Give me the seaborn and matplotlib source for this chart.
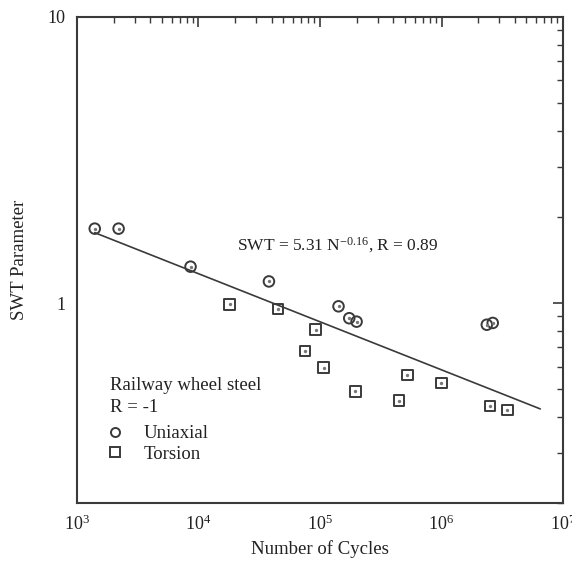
import numpy as np
import pandas as pd
import matplotlib
matplotlib.use("Agg")
import matplotlib.pyplot as plt
import seaborn as sns
from matplotlib.ticker import LogLocator, NullFormatter, FixedLocator, FixedFormatter
from matplotlib.lines import Line2D

# ---- data ----
uni_N = [1400, 2200, 8600, 38000, 142000, 174000, 200000, 2360000, 2640000]
uni_swt = [1.82, 1.82, 1.34, 1.19, 0.974, 0.885, 0.861, 0.840, 0.852]

tor_N = [18000, 45000, 75000, 92000, 107000, 195000, 447000, 524000, 996000, 2500000, 3480000]
tor_swt = [0.99, 0.953, 0.679, 0.807, 0.595, 0.491, 0.456, 0.560, 0.525, 0.436, 0.423]

fit_a = 5.95          # drawn line coefficient (as drawn)
fit_b = -0.168        # drawn line exponent (as drawn)
fit_N_range = [1400, 6.5e6]

x_ticks = [1e3, 1e4, 1e5, 1e6, 1e7]
x_ticklabels = ["$10^3$", "$10^4$", "$10^5$", "$10^6$", "$10^7$"]
y_ticks = [1, 10]
y_ticklabels = ["1", "10"]

sns.set_theme(style="white")
plt.rcParams["font.family"] = ["Liberation Serif", "DejaVu Serif"]
plt.rcParams["mathtext.fontset"] = "custom"
plt.rcParams["mathtext.rm"] = "Liberation Serif"
plt.rcParams["mathtext.it"] = "Liberation Serif:italic"
plt.rcParams["mathtext.bf"] = "Liberation Serif:bold"

df = pd.DataFrame({
    "N": uni_N + tor_N,
    "SWT": uni_swt + tor_swt,
    "Type": ["Uniaxial"] * len(uni_N) + ["Torsion"] * len(tor_N),
})
fitN = np.logspace(np.log10(fit_N_range[0]), np.log10(fit_N_range[1]), 50)
fit_df = pd.DataFrame({"N": fitN, "SWT": fit_a * fitN ** fit_b})

fig = plt.figure(figsize=(5.72, 5.65), dpi=100)
ax = fig.add_axes([0.1346, 0.1097, 0.8497, 0.8603])

ink = "#3a3a3a"
txt = "#222222"
sns.lineplot(data=fit_df, x="N", y="SWT", ax=ax, color=ink, lw=1.2, legend=False)
sns.scatterplot(data=df, x="N", y="SWT", style="Type",
                markers={"Uniaxial": "o", "Torsion": "s"},
                style_order=["Uniaxial", "Torsion"],
                s=58, facecolor="none", edgecolor=ink, linewidth=1.4, ax=ax, legend=False)
# tiny centre dots seen in markers
ax.scatter(df["N"], df["SWT"], s=2, color="#777777", zorder=4)

ax.set_xscale("log")
ax.set_yscale("log")
ax.set_xlim(1e3, 1e7)
ax.set_ylim(0.2, 10)

ax.xaxis.set_major_locator(FixedLocator(x_ticks))
ax.xaxis.set_major_formatter(FixedFormatter(x_ticklabels))
ax.xaxis.set_minor_locator(LogLocator(base=10, subs=np.arange(2, 10)))
ax.xaxis.set_minor_formatter(NullFormatter())
ax.yaxis.set_major_locator(FixedLocator(y_ticks))
ax.yaxis.set_major_formatter(FixedFormatter(y_ticklabels))
ax.yaxis.set_minor_locator(LogLocator(base=10, subs=np.arange(2, 10)))
ax.yaxis.set_minor_formatter(NullFormatter())

ax.tick_params(which="both", direction="in", top=True, right=True, color=ink)
ax.tick_params(which="major", length=7, width=1.2, labelsize=13, pad=8, labelcolor=txt)
ax.tick_params(which="minor", length=4, width=1.0)
for sp in ax.spines.values():
    sp.set_color(ink)
    sp.set_linewidth(1.5)

ax.set_xlabel("Number of Cycles", fontsize=13.5, color=txt, labelpad=5)
ax.set_ylabel("SWT Parameter", fontsize=13.5, color=txt, labelpad=14)

ax.text(0.33, 0.530, "SWT = 5.31 N$^{-0.16}$, R = 0.89", transform=ax.transAxes,
        fontsize=12.5, color=txt, va="center", ha="left")

# legend block
ax.text(0.068, 0.242, "Railway wheel steel", transform=ax.transAxes,
        fontsize=13.5, color=txt, va="center", ha="left")
ax.text(0.068, 0.197, "R = -1", transform=ax.transAxes,
        fontsize=13.5, color=txt, va="center", ha="left")
handles = [Line2D([], [], marker="o", ls="none", mfc="none", mec=ink, mew=1.4, ms=6.5),
           Line2D([], [], marker="s", ls="none", mfc="none", mec=ink, mew=1.4, ms=6.5)]
leg = ax.legend(handles, ["Uniaxial", "Torsion"],
                loc="center left", bbox_to_anchor=(0.059, 0.1215), frameon=False,
                fontsize=13.5, handlelength=1.0, handletextpad=1.0,
                labelspacing=0.2, borderaxespad=0, borderpad=0)
for t in leg.get_texts():
    t.set_color(txt)

fig.savefig("out.png", dpi=100)
